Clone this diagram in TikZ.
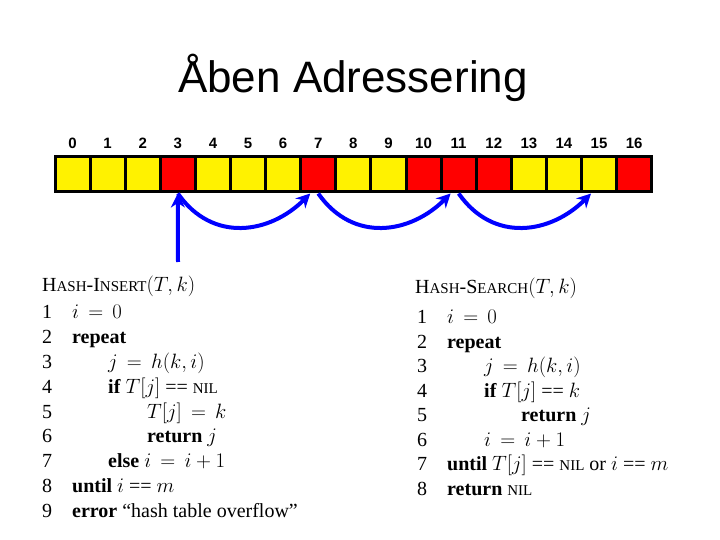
\documentclass[tikz,border=0pt]{standalone}
\usepackage{fontspec}
\setmainfont{Liberation Serif}
\newfontfamily\arialfont{Liberation Sans}
\usetikzlibrary{arrows.meta}
\newcommand{\smc}[1]{{\fontsize{15}{15}\selectfont #1}}
\tikzstyle{free} = [minimum width = 35.1pt, minimum height = 35pt, draw = black, line width = 3pt, fill = yellow, inner sep = 0pt]
\tikzstyle{used} = [minimum width = 35.1pt, minimum height = 35pt, draw = black, line width = 3pt, fill = red, inner sep = 0pt]
\tikzstyle{idx} = [font = \arialfont\bfseries\fontsize{15}{15}\selectfont]
\tikzstyle{probe} = [draw = blue, line width = 4pt, -{Stealth[length=14pt,width=14pt]}]
\tikzstyle{code} = [anchor = base west, inner sep = 0pt, font = \fontsize{20}{22}\selectfont]
\begin{document}
\begin{tikzpicture}[x = 1pt, y = -1pt]
    \useasboundingbox (0,0) rectangle (720,540);
    \node (title) at (353,78) {\arialfont\fontsize{44}{44}\selectfont Åben Adressering};
    % the table
    \foreach \i/\s in {0/free,1/free,2/free,3/used,4/free,5/free,6/free,7/used,8/free,9/free,10/used,11/used,12/used,13/free,14/free,15/free,16/used}
    {
        \node [\s] (c\i) at (55+35.1*\i+17.55,174.5) {};
        \node [idx] (n\i) at (55+35.1*\i+17.55,143) {\i};
    }
    % probes
    \coordinate (start) at (178,262);
    \draw [probe] (start) -- (c3.south);
    \draw [probe] (c3.south) .. controls +(35,50) and +(-40,40) .. ([xshift=-8pt]c7.south);
    \draw [probe] (c7.south) .. controls +(35,50) and +(-40,40) .. ([xshift=-8pt]c11.south);
    \draw [probe] (c11.south) .. controls +(35,50) and +(-40,40) .. ([xshift=-8pt]c15.south);
    % HASH-INSERT
    \node [code] (ih) at (42,291) {H\smc{ASH}-I\smc{NSERT}$(T,k)$};
    \foreach \n/\x/\t in {1/72/{$i\,=\,0$},2/72/{\textbf{repeat}},3/108/{$j\,=\,h(k,i)$},4/108/{\textbf{if} $T[j]$ == \smc{NIL}},5/147/{$T[j]\,=\,k$},6/147/{\textbf{return} $j$},7/108/{\textbf{else} $i\,=\,i+1$},8/72/{\textbf{until} $i$ == $m$},9/72/{\textbf{error} ``hash table overflow''}}
    {
        \node [code] (il\n) at (42,294+24.8*\n) {\n};
        \node [code] (it\n) at (\x,294+24.8*\n) {\t};
    }
    % HASH-SEARCH
    \node [code] (sh) at (415,293) {H\smc{ASH}-S\smc{EARCH}$(T,k)$};
    \foreach \n/\x/\t in {1/447/{$i\,=\,0$},2/447/{\textbf{repeat}},3/484/{$j\,=\,h(k,i)$},4/484/{\textbf{if} $T[j]$ == $k$},5/521/{\textbf{return} $j$},6/484/{$i\,=\,i+1$},7/447/{\textbf{until} $T[j]$ == \smc{NIL} or $i$ == $m$},8/447/{\textbf{return} \smc{NIL}}}
    {
        \node [code] (sl\n) at (417,299+24.5*\n) {\n};
        \node [code] (st\n) at (\x,299+24.5*\n) {\t};
    }
\end{tikzpicture}
\end{document}
